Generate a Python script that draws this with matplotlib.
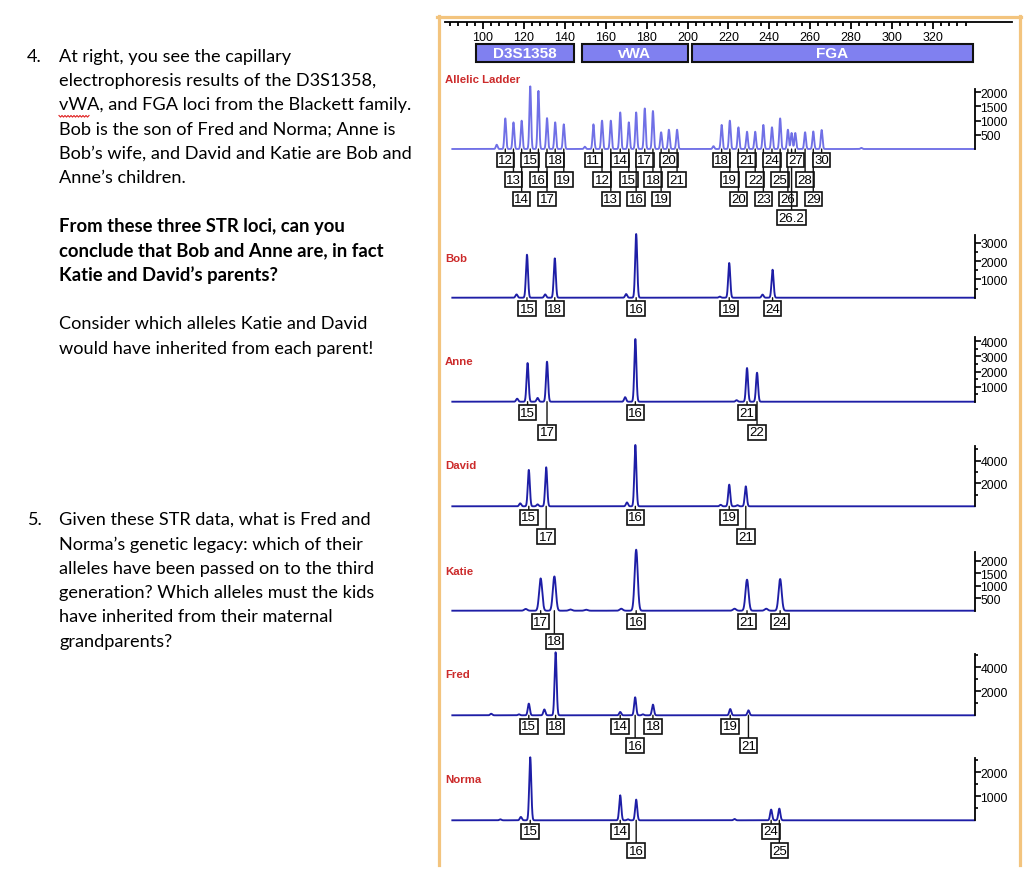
import matplotlib.pyplot as plt
import numpy as np
from matplotlib.lines import Line2D

plt.rcParams["font.family"] = ["Liberation Sans", "DejaVu Sans"]

W, H = 1024, 879

# size ruler and locus bars (bp)
ruler_major = np.arange(100, 321, 20)
ruler_minor = np.arange(84, 341, 4)
loci = ["D3S1358", "vWA", "FGA"]
locus_start = [96.7, 148.2, 202.2]
locus_end = [144.4, 200.0, 339.5]

# allelic ladder
ladder_alleles = ["12", "13", "14", "15", "16", "17", "18", "19",
                  "11", "12", "13", "14", "15", "16", "17", "18", "19", "20", "21",
                  "18", "19", "20", "21", "22", "23", "24", "25", "26", "26.2", "27", "28", "29", "30"]
ladder_sizes = [110.9, 114.9, 118.9, 123.1, 127.1, 131.3, 135.3, 139.5,
                154.0, 158.2, 162.5, 167.1, 171.3, 174.9, 179.1, 183.1, 187.1, 190.9, 194.9,
                216.7, 220.7, 224.9, 229.1, 233.1, 237.1, 241.3, 245.3, 249.1, 250.9, 252.7, 257.5, 261.5, 265.6]
ladder_heights = [1080, 940, 1000, 2210, 2050, 1090, 940, 870,
                  870, 1000, 1000, 1290, 940, 1290, 1430, 1340, 590, 680, 680,
                  850, 1000, 765, 610, 610, 850, 765, 1080, 680, 565, 565, 590, 620, 670]
ladder_rows = [0, 1, 2, 0, 1, 2, 0, 1,
               0, 1, 2, 0, 1, 2, 0, 1, 2, 0, 1,
               0, 1, 2, 0, 1, 2, 0, 1, 2, 3, 0, 1, 2, 0]
ladder_small_sizes = [106.7, 149.8, 212.7, 285.0]
ladder_small_heights = [150, 80, 100, 40]

# family samples: called alleles, sizes (bp), heights (RFU), label row
bob_alleles = ["15", "18", "16", "19", "24"]
bob_sizes = [121.5, 135.1, 174.9, 220.4, 241.6]
bob_heights = [2350, 2150, 3480, 1895, 1530]
bob_rows = [0, 0, 0, 0, 0]
bob_small_sizes = [116.4, 130.4, 170.0, 215.8, 236.7]
bob_small_heights = [180, 180, 200, 60, 170]

anne_alleles = ["15", "17", "16", "21", "22"]
anne_sizes = [121.8, 131.3, 174.5, 229.1, 234.0]
anne_heights = [2560, 2650, 4150, 2230, 1920]
anne_rows = [0, 1, 0, 0, 1]
anne_small_sizes = [116.7, 126.7, 169.5, 224.0]
anne_small_heights = [200, 250, 300, 100]

david_alleles = ["15", "17", "16", "19", "21"]
david_sizes = [122.4, 130.9, 174.5, 220.4, 228.5]
david_heights = [3190, 3420, 5380, 1900, 1750]
david_rows = [0, 1, 0, 0, 1]
david_small_sizes = [118.2, 126.7, 170.4, 216.2, 224.4]
david_small_heights = [260, 170, 340, 130, 100]

katie_alleles = ["17", "18", "16", "21", "24"]
katie_sizes = [128.2, 134.9, 174.9, 229.1, 245.3]
katie_heights = [1300, 1380, 2455, 1250, 1275]
katie_rows = [0, 1, 0, 0, 0]
katie_small_sizes = [120.9, 142.7, 150.4, 167.6, 223.0, 238.5]
katie_small_heights = [70, 50, 40, 80, 80, 80]

fred_alleles = ["15", "18", "14", "16", "18", "19", "21"]
fred_sizes = [122.4, 135.5, 167.1, 174.4, 183.1, 220.9, 229.8]
fred_heights = [975, 5250, 280, 1500, 890, 525, 415]
fred_rows = [0, 0, 0, 1, 0, 0, 1]
fred_small_sizes = [104.0, 117.6, 130.0, 178.2]
fred_small_heights = [130, 80, 490, 80]

norma_alleles = ["15", "14", "16", "24", "25"]
norma_sizes = [123.1, 167.1, 174.9, 240.9, 244.9]
norma_heights = [2610, 1035, 857, 443, 484]
norma_rows = [0, 0, 1, 0, 1]
norma_small_sizes = [108.5, 118.5, 170.9, 223.0]
norma_small_heights = [40, 140, 40, 55]

names = ["Allelic Ladder", "Bob", "Anne", "David", "Katie", "Fred", "Norma"]
y_max = [2116, 3426, 4265, 5263, 2374, 5108, 2580]
major_step = [500, 1000, 1000, 2000, 500, 2000, 1000]
minor_step = [0, 500, 500, 1000, 0, 1000, 500]

samples = [
    (ladder_alleles, ladder_sizes, ladder_heights, ladder_rows, ladder_small_sizes, ladder_small_heights),
    (bob_alleles, bob_sizes, bob_heights, bob_rows, bob_small_sizes, bob_small_heights),
    (anne_alleles, anne_sizes, anne_heights, anne_rows, anne_small_sizes, anne_small_heights),
    (david_alleles, david_sizes, david_heights, david_rows, david_small_sizes, david_small_heights),
    (katie_alleles, katie_sizes, katie_heights, katie_rows, katie_small_sizes, katie_small_heights),
    (fred_alleles, fred_sizes, fred_heights, fred_rows, fred_small_sizes, fred_small_heights),
    (norma_alleles, norma_sizes, norma_heights, norma_rows, norma_small_sizes, norma_small_heights),
]

# layout (pixels)
baseline_px = [150, 298.7, 402.7, 507.3, 611.7, 716.3, 821.3]
top_px = [90, 236, 338.3, 447.3, 552.7, 655, 759]
name_px = [80, 259, 362.3, 466, 571.7, 675, 779.7]
peak_sigma = [0.42, 0.5, 0.5, 0.5, 0.75, 0.5, 0.5]
row_off = [11, 30.5, 50, 68.5]  # px below baseline


def bp_at(px):
    return 100 + (px - 483) / 2.045


def px_axes(x0, y_top, x1, y_bot):
    return fig.add_axes([x0 / W, 1 - y_bot / H, (x1 - x0) / W, (y_bot - y_top) / H])


fig = plt.figure(figsize=(W / 100, H / 100), dpi=100)
fig.patch.set_facecolor("white")

# orange frame
frame = "#F3C47E"
for xs, ys in [([438.5, 438.5], [17, 866]), ([1019.5, 1019.5], [17, 866]), ([437, 1021], [18, 18])]:
    fig.add_artist(Line2D([x / W for x in xs], [1 - y / H for y in ys], color=frame, lw=2.3,
                          transform=fig.transFigure))

# ruler
x_left, x_axis, x_ruler = 445, 974.6, 1012
ax_r = px_axes(x_left, 19, x_ruler, 23)
ax_r.set_xlim(bp_at(x_left), bp_at(x_ruler))
ax_r.set_ylim(0, 1)
for s in ["left", "right", "top"]:
    ax_r.spines[s].set_visible(False)
ax_r.spines["bottom"].set_linewidth(1.3)
ax_r.patch.set_alpha(0)
ax_r.set_yticks([])
ax_r.set_xticks(ruler_major)
ax_r.set_xticks([t for t in ruler_minor if t % 20 != 0], minor=True)
ax_r.tick_params(axis="x", which="major", direction="out", length=5, width=1.3, labelsize=9, pad=1.2)
ax_r.tick_params(axis="x", which="minor", direction="out", length=2.8, width=1.3)

# locus bars
ax_b = px_axes(x_left, 44.8, x_ruler, 62.5)
ax_b.set_xlim(bp_at(x_left), bp_at(x_ruler))
ax_b.set_ylim(0, 1)
ax_b.axis("off")
for name, a, b in zip(loci, locus_start, locus_end):
    ax_b.barh(0.5, b - a, left=a, height=1, color="#8080F0", edgecolor="#111111", linewidth=1.5,
              clip_on=False)
    ax_b.text((a + b) / 2, 0.5, name, ha="center", va="center", color="white",
              fontsize=11, fontweight="bold")

# electropherograms
grid = np.linspace(85, bp_at(x_axis), 6000)
for i, (alleles, sizes, heights, rows, ssizes, sheights) in enumerate(samples):
    ax = px_axes(x_left, top_px[i], x_axis, baseline_px[i])
    ax.set_xlim(bp_at(x_left), bp_at(x_axis))
    ax.set_ylim(0, y_max[i])
    ax.patch.set_alpha(0)
    for s in ["left", "top", "bottom"]:
        ax.spines[s].set_visible(False)
    ax.spines["right"].set_linewidth(1.3)
    ax.set_xticks([])
    ax.yaxis.tick_right()
    ax.set_yticks(np.arange(major_step[i], y_max[i], major_step[i]))
    if minor_step[i]:
        ax.set_yticks([v for v in np.arange(0, y_max[i], minor_step[i]) if v % major_step[i] != 0],
                      minor=True)
    ax.tick_params(axis="y", which="major", direction="out", length=4, width=1.2, labelsize=8.8, pad=0.3)
    ax.tick_params(axis="y", which="minor", direction="out", length=2.5, width=1.2)

    sig = peak_sigma[i]
    y = np.zeros_like(grid)
    for s, h in zip(list(sizes) + list(ssizes), list(heights) + list(sheights)):
        y += h * np.exp(-0.5 * ((grid - s) / sig) ** 2)
    color = "#7070E6" if i == 0 else "#1E1EA6"
    ax.plot(grid, y, color=color, lw=1.35, clip_on=False)

    for lab, s, r in zip(alleles, sizes, rows):
        ax.annotate(lab, xy=(s, 0), xytext=(0, -row_off[r] * 0.72), textcoords="offset points",
                    ha="center", va="center", fontsize=9.5, annotation_clip=False,
                    bbox=dict(boxstyle="square,pad=0.1", fc="white", ec="#111111", lw=1.2),
                    arrowprops=dict(arrowstyle="-", color="#111111", lw=1.0, shrinkA=0, shrinkB=0))

    fig.text(445 / W, 1 - name_px[i] / H, names[i], color="#CC2B2B", fontsize=8.2,
             fontweight="bold", va="center", ha="left")

# question text on the left
q4_lines = [
    "At right, you see the capillary",
    "electrophoresis results of the D3S1358,",
    "vWA, and FGA loci from the Blackett family.",
    "Bob is the son of Fred and Norma; Anne is",
    "Bob\u2019s wife, and David and Katie are Bob and",
    "Anne\u2019s children.",
]
q4_bold = [
    "From these three STR loci, can you",
    "conclude that Bob and Anne are, in fact",
    "Katie and David\u2019s parents?",
]
q4_hint = [
    "Consider which alleles Katie and David",
    "would have inherited from each parent!",
]
q5_lines = [
    "Given these STR data, what is Fred and",
    "Norma\u2019s genetic legacy: which of their",
    "alleles have been passed on to the third",
    "generation? Which alleles must the kids",
    "have inherited from their maternal",
    "grandparents?",
]
fs = 13.1
step = 24.35
txt = dict(family=["Lato", "DejaVu Sans"], fontsize=fs, va="center", ha="left", color="black")
fig.text(27 / W, 1 - 56.7 / H, "4.", **txt)
fig.text(27 / W, 1 - 520 / H, "5.", **txt)
for k, line in enumerate(q4_lines):
    fig.text(59 / W, 1 - (56.7 + k * step) / H, line, **txt)
for k, line in enumerate(q4_bold):
    fig.text(59 / W, 1 - (226.7 + k * step) / H, line, fontweight="bold", fontsize=13.3,
             **{k2: v for k2, v in txt.items() if k2 != "fontsize"})
for k, line in enumerate(q4_hint):
    fig.text(59 / W, 1 - (324.3 + k * step) / H, line, **txt)
for k, line in enumerate(q5_lines):
    fig.text(59 / W, 1 - (520 + k * step) / H, line, **txt)

# spell-check squiggle under "vWA"
zx = np.arange(59, 90, 1.5)
zy = 116.5 + np.where(np.arange(len(zx)) % 2 == 0, 0, 1.6)
fig.add_artist(Line2D(zx / W, 1 - zy / H, color="#E02020", lw=0.8, transform=fig.transFigure))

fig.savefig("out.png", dpi=100, facecolor="white")
